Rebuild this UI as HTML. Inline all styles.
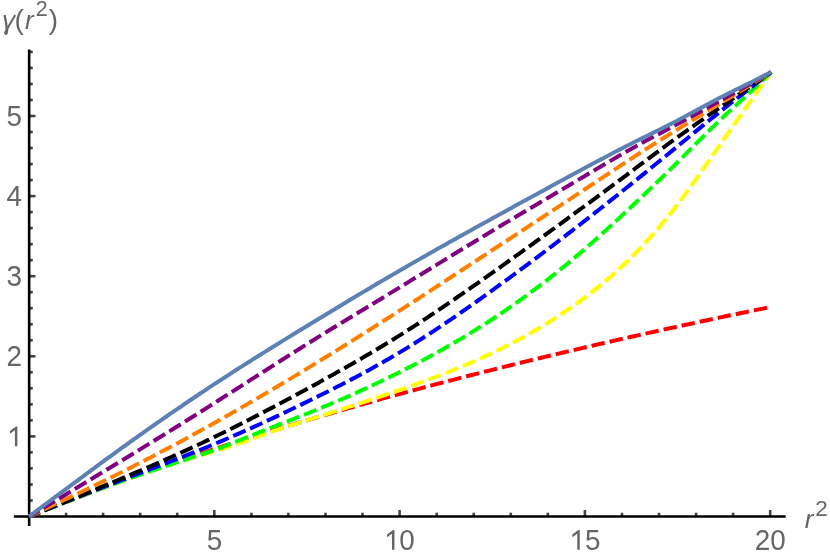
<!DOCTYPE html>
<html><head><meta charset="utf-8"><style>
html,body{margin:0;padding:0;background:#fff}
svg{display:block}
svg{will-change:transform}
text{font-family:"Liberation Sans",sans-serif;font-size:29px;fill:#666}
</style></head><body>
<svg width="830" height="558" viewBox="0 0 830 558">
<rect width="830" height="558" fill="#fff"/>
<g stroke="#444" stroke-width="2.6" fill="none">
<line x1="66.1" y1="516.5" x2="66.1" y2="512.7"/>
<line x1="103.1" y1="516.5" x2="103.1" y2="512.7"/>
<line x1="140.2" y1="516.5" x2="140.2" y2="512.7"/>
<line x1="177.2" y1="516.5" x2="177.2" y2="512.7"/>
<line x1="214.3" y1="516.5" x2="214.3" y2="510.0"/>
<line x1="251.4" y1="516.5" x2="251.4" y2="512.7"/>
<line x1="288.4" y1="516.5" x2="288.4" y2="512.7"/>
<line x1="325.5" y1="516.5" x2="325.5" y2="512.7"/>
<line x1="362.5" y1="516.5" x2="362.5" y2="512.7"/>
<line x1="399.6" y1="516.5" x2="399.6" y2="510.0"/>
<line x1="436.7" y1="516.5" x2="436.7" y2="512.7"/>
<line x1="473.7" y1="516.5" x2="473.7" y2="512.7"/>
<line x1="510.8" y1="516.5" x2="510.8" y2="512.7"/>
<line x1="547.8" y1="516.5" x2="547.8" y2="512.7"/>
<line x1="584.9" y1="516.5" x2="584.9" y2="510.0"/>
<line x1="622.0" y1="516.5" x2="622.0" y2="512.7"/>
<line x1="659.0" y1="516.5" x2="659.0" y2="512.7"/>
<line x1="696.1" y1="516.5" x2="696.1" y2="512.7"/>
<line x1="733.1" y1="516.5" x2="733.1" y2="512.7"/>
<line x1="770.2" y1="516.5" x2="770.2" y2="510.0"/>
<line x1="29.0" y1="500.5" x2="32.8" y2="500.5"/>
<line x1="29.0" y1="484.5" x2="32.8" y2="484.5"/>
<line x1="29.0" y1="468.4" x2="32.8" y2="468.4"/>
<line x1="29.0" y1="452.4" x2="32.8" y2="452.4"/>
<line x1="29.0" y1="436.4" x2="35.5" y2="436.4"/>
<line x1="29.0" y1="420.4" x2="32.8" y2="420.4"/>
<line x1="29.0" y1="404.4" x2="32.8" y2="404.4"/>
<line x1="29.0" y1="388.3" x2="32.8" y2="388.3"/>
<line x1="29.0" y1="372.3" x2="32.8" y2="372.3"/>
<line x1="29.0" y1="356.3" x2="35.5" y2="356.3"/>
<line x1="29.0" y1="340.3" x2="32.8" y2="340.3"/>
<line x1="29.0" y1="324.3" x2="32.8" y2="324.3"/>
<line x1="29.0" y1="308.2" x2="32.8" y2="308.2"/>
<line x1="29.0" y1="292.2" x2="32.8" y2="292.2"/>
<line x1="29.0" y1="276.2" x2="35.5" y2="276.2"/>
<line x1="29.0" y1="260.2" x2="32.8" y2="260.2"/>
<line x1="29.0" y1="244.2" x2="32.8" y2="244.2"/>
<line x1="29.0" y1="228.1" x2="32.8" y2="228.1"/>
<line x1="29.0" y1="212.1" x2="32.8" y2="212.1"/>
<line x1="29.0" y1="196.1" x2="35.5" y2="196.1"/>
<line x1="29.0" y1="180.1" x2="32.8" y2="180.1"/>
<line x1="29.0" y1="164.1" x2="32.8" y2="164.1"/>
<line x1="29.0" y1="148.0" x2="32.8" y2="148.0"/>
<line x1="29.0" y1="132.0" x2="32.8" y2="132.0"/>
<line x1="29.0" y1="116.0" x2="35.5" y2="116.0"/>
<line x1="29.0" y1="100.0" x2="32.8" y2="100.0"/>
<line x1="29.0" y1="84.0" x2="32.8" y2="84.0"/>
<line x1="29.0" y1="67.9" x2="32.8" y2="67.9"/>
<line x1="29.0" y1="51.9" x2="32.8" y2="51.9"/>
</g>
<g stroke="#000" stroke-width="2.5" fill="none">
<line x1="13.9" y1="516.5" x2="785.7" y2="516.5"/>
</g>
<g stroke="#000" stroke-width="2.6" fill="none">
<line x1="29.15" y1="49.4" x2="29.15" y2="526"/>
</g>
<g stroke-linecap="butt" stroke-linejoin="round">
<path d="M29.10 516.50 L32.81 515.04 L36.52 513.58 L40.23 512.13 L43.94 510.67 L47.65 509.21 L51.36 507.76 L55.07 506.31 L58.78 504.86 L62.50 503.41 L66.21 501.97 L69.92 500.53 L73.63 499.09 L77.34 497.66 L81.05 496.23 L84.76 494.80 L88.47 493.38 L92.18 491.97 L95.89 490.56 L99.60 489.15 L103.31 487.75 L107.02 486.36 L110.73 484.98 L114.44 483.60 L118.15 482.23 L121.86 480.87 L125.57 479.51 L129.29 478.16 L133.00 476.82 L136.71 475.49 L140.42 474.17 L144.13 472.85 L147.84 471.54 L151.55 470.24 L155.26 468.94 L158.97 467.65 L162.68 466.37 L166.39 465.09 L170.10 463.82 L173.81 462.55 L177.52 461.29 L181.23 460.04 L184.94 458.79 L188.65 457.55 L192.36 456.31 L196.08 455.08 L199.79 453.86 L203.50 452.63 L207.21 451.42 L210.92 450.20 L214.63 449.00 L218.34 447.79 L222.05 446.59 L225.76 445.40 L229.47 444.21 L233.18 443.02 L236.89 441.84 L240.60 440.66 L244.31 439.48 L248.02 438.31 L251.73 437.15 L255.44 435.99 L259.15 434.83 L262.87 433.68 L266.58 432.53 L270.29 431.38 L274.00 430.24 L277.71 429.11 L281.42 427.98 L285.13 426.85 L288.84 425.72 L292.55 424.61 L296.26 423.49 L299.97 422.38 L303.68 421.27 L307.39 420.17 L311.10 419.07 L314.81 417.98 L318.52 416.88 L322.23 415.80 L325.94 414.72 L329.66 413.64 L333.37 412.56 L337.08 411.49 L340.79 410.42 L344.50 409.36 L348.21 408.30 L351.92 407.25 L355.63 406.20 L359.34 405.15 L363.05 404.10 L366.76 403.06 L370.47 402.03 L374.18 400.99 L377.89 399.96 L381.60 398.94 L385.31 397.91 L389.02 396.89 L392.73 395.88 L396.45 394.86 L400.16 393.85 L403.87 392.85 L407.58 391.85 L411.29 390.85 L415.00 389.85 L418.71 388.86 L422.42 387.87 L426.13 386.88 L429.84 385.90 L433.55 384.92 L437.26 383.94 L440.97 382.97 L444.68 381.99 L448.39 381.03 L452.10 380.06 L455.81 379.10 L459.52 378.14 L463.24 377.19 L466.95 376.23 L470.66 375.28 L474.37 374.34 L478.08 373.39 L481.79 372.45 L485.50 371.52 L489.21 370.58 L492.92 369.65 L496.63 368.72 L500.34 367.79 L504.05 366.87 L507.76 365.95 L511.47 365.03 L515.18 364.12 L518.89 363.21 L522.60 362.30 L526.31 361.39 L530.03 360.49 L533.74 359.58 L537.45 358.69 L541.16 357.79 L544.87 356.90 L548.58 356.01 L552.29 355.12 L556.00 354.23 L559.71 353.35 L563.42 352.47 L567.13 351.59 L570.84 350.72 L574.55 349.84 L578.26 348.97 L581.97 348.11 L585.68 347.24 L589.39 346.38 L593.10 345.52 L596.82 344.66 L600.53 343.81 L604.24 342.95 L607.95 342.10 L611.66 341.25 L615.37 340.41 L619.08 339.56 L622.79 338.72 L626.50 337.88 L630.21 337.05 L633.92 336.21 L637.63 335.38 L641.34 334.55 L645.05 333.73 L648.76 332.90 L652.47 332.08 L656.18 331.26 L659.89 330.44 L663.61 329.62 L667.32 328.81 L671.03 328.00 L674.74 327.19 L678.45 326.38 L682.16 325.58 L685.87 324.77 L689.58 323.97 L693.29 323.17 L697.00 322.38 L700.71 321.58 L704.42 320.79 L708.13 320.00 L711.84 319.21 L715.55 318.42 L719.26 317.64 L722.97 316.86 L726.68 316.08 L730.40 315.30 L734.11 314.52 L737.82 313.75 L741.53 312.97 L745.24 312.21 L748.95 311.44 L752.66 310.67 L756.37 309.91 L760.08 309.15 L763.79 308.39 L767.50 307.63 L771.21 306.87" fill="none" stroke="#ff0000" stroke-width="4" stroke-dasharray="13.5 4.95" stroke-dashoffset="2"/>
<path d="M29.10 516.50 L32.81 515.05 L36.52 513.61 L40.23 512.16 L43.94 510.71 L47.65 509.27 L51.36 507.83 L55.07 506.39 L58.78 504.95 L62.50 503.51 L66.21 502.08 L69.92 500.65 L73.63 499.22 L77.34 497.80 L81.05 496.38 L84.76 494.96 L88.47 493.55 L92.18 492.14 L95.89 490.74 L99.60 489.35 L103.31 487.96 L107.02 486.57 L110.73 485.20 L114.44 483.83 L118.15 482.46 L121.86 481.11 L125.57 479.76 L129.29 478.42 L133.00 477.09 L136.71 475.76 L140.42 474.45 L144.13 473.15 L147.84 471.87 L151.55 470.59 L155.26 469.33 L158.97 468.08 L162.68 466.85 L166.39 465.63 L170.10 464.43 L173.81 463.25 L177.52 462.08 L181.23 460.93 L184.94 459.80 L188.65 458.69 L192.36 457.60 L196.08 456.52 L199.79 455.44 L203.50 454.37 L207.21 453.30 L210.92 452.23 L214.63 451.14 L218.34 450.05 L222.05 448.93 L225.76 447.80 L229.47 446.64 L233.18 445.45 L236.89 444.22 L240.60 442.95 L244.31 441.62 L248.02 440.25 L251.73 438.86 L255.44 437.46 L259.15 436.08 L262.87 434.73 L266.58 433.41 L270.29 432.12 L274.00 430.86 L277.71 429.62 L281.42 428.40 L285.13 427.19 L288.84 426.00 L292.55 424.82 L296.26 423.65 L299.97 422.49 L303.68 421.33 L307.39 420.16 L311.10 419.00 L314.81 417.83 L318.52 416.65 L322.23 415.48 L325.94 414.30 L329.66 413.12 L333.37 411.93 L337.08 410.74 L340.79 409.55 L344.50 408.35 L348.21 407.15 L351.92 405.94 L355.63 404.74 L359.34 403.52 L363.05 402.31 L366.76 401.08 L370.47 399.86 L374.18 398.62 L377.89 397.39 L381.60 396.14 L385.31 394.89 L389.02 393.63 L392.73 392.36 L396.45 391.08 L400.16 389.80 L403.87 388.51 L407.58 387.20 L411.29 385.89 L415.00 384.57 L418.71 383.23 L422.42 381.88 L426.13 380.52 L429.84 379.14 L433.55 377.75 L437.26 376.34 L440.97 374.91 L444.68 373.46 L448.39 372.00 L452.10 370.52 L455.81 369.02 L459.52 367.49 L463.24 365.94 L466.95 364.37 L470.66 362.78 L474.37 361.16 L478.08 359.52 L481.79 357.85 L485.50 356.16 L489.21 354.43 L492.92 352.68 L496.63 350.90 L500.34 349.09 L504.05 347.24 L507.76 345.37 L511.47 343.46 L515.18 341.52 L518.89 339.54 L522.60 337.52 L526.31 335.47 L530.03 333.38 L533.74 331.25 L537.45 329.08 L541.16 326.87 L544.87 324.62 L548.58 322.33 L552.29 319.99 L556.00 317.60 L559.71 315.17 L563.42 312.69 L567.13 310.17 L570.84 307.59 L574.55 304.97 L578.26 302.30 L581.97 299.57 L585.68 296.79 L589.39 293.96 L593.10 291.07 L596.82 288.12 L600.53 285.10 L604.24 282.02 L607.95 278.88 L611.66 275.66 L615.37 272.37 L619.08 269.00 L622.79 265.55 L626.50 262.03 L630.21 258.41 L633.92 254.71 L637.63 250.92 L641.34 247.04 L645.05 243.06 L648.76 239.00 L652.47 234.84 L656.18 230.60 L659.89 226.25 L663.61 221.81 L667.32 217.28 L671.03 212.65 L674.74 207.92 L678.45 203.09 L682.16 198.17 L685.87 193.16 L689.58 188.07 L693.29 182.91 L697.00 177.70 L700.71 172.44 L704.42 167.14 L708.13 161.81 L711.84 156.46 L715.55 151.10 L719.26 145.74 L722.97 140.40 L726.68 135.06 L730.40 129.75 L734.11 124.46 L737.82 119.18 L741.53 113.92 L745.24 108.67 L748.95 103.42 L752.66 98.19 L756.37 92.96 L760.08 87.74 L763.79 82.51 L767.50 77.30 L771.21 72.08" fill="none" stroke="#ffff00" stroke-width="4" stroke-dasharray="13.5 4.95" stroke-dashoffset="2"/>
<path d="M29.10 516.50 L32.81 515.04 L36.52 513.58 L40.23 512.12 L43.94 510.66 L47.65 509.21 L51.36 507.75 L55.07 506.30 L58.78 504.85 L62.50 503.41 L66.21 501.97 L69.92 500.53 L73.63 499.10 L77.34 497.67 L81.05 496.25 L84.76 494.83 L88.47 493.43 L92.18 492.02 L95.89 490.63 L99.60 489.24 L103.31 487.86 L107.02 486.49 L110.73 485.13 L114.44 483.78 L118.15 482.44 L121.86 481.11 L125.57 479.79 L129.29 478.48 L133.00 477.18 L136.71 475.89 L140.42 474.60 L144.13 473.33 L147.84 472.07 L151.55 470.81 L155.26 469.56 L158.97 468.32 L162.68 467.08 L166.39 465.86 L170.10 464.63 L173.81 463.42 L177.52 462.21 L181.23 461.00 L184.94 459.80 L188.65 458.60 L192.36 457.40 L196.08 456.20 L199.79 454.99 L203.50 453.76 L207.21 452.51 L210.92 451.24 L214.63 449.95 L218.34 448.62 L222.05 447.26 L225.76 445.85 L229.47 444.40 L233.18 442.92 L236.89 441.42 L240.60 439.90 L244.31 438.38 L248.02 436.87 L251.73 435.36 L255.44 433.87 L259.15 432.38 L262.87 430.90 L266.58 429.44 L270.29 427.99 L274.00 426.54 L277.71 425.10 L281.42 423.66 L285.13 422.22 L288.84 420.78 L292.55 419.34 L296.26 417.89 L299.97 416.43 L303.68 414.97 L307.39 413.49 L311.10 412.00 L314.81 410.50 L318.52 408.98 L322.23 407.45 L325.94 405.91 L329.66 404.35 L333.37 402.78 L337.08 401.20 L340.79 399.60 L344.50 397.98 L348.21 396.35 L351.92 394.71 L355.63 393.05 L359.34 391.37 L363.05 389.68 L366.76 387.98 L370.47 386.26 L374.18 384.52 L377.89 382.77 L381.60 381.00 L385.31 379.21 L389.02 377.41 L392.73 375.59 L396.45 373.76 L400.16 371.91 L403.87 370.04 L407.58 368.15 L411.29 366.24 L415.00 364.32 L418.71 362.38 L422.42 360.42 L426.13 358.43 L429.84 356.43 L433.55 354.41 L437.26 352.36 L440.97 350.30 L444.68 348.21 L448.39 346.09 L452.10 343.96 L455.81 341.80 L459.52 339.61 L463.24 337.41 L466.95 335.17 L470.66 332.91 L474.37 330.63 L478.08 328.31 L481.79 325.97 L485.50 323.60 L489.21 321.21 L492.92 318.78 L496.63 316.33 L500.34 313.85 L504.05 311.33 L507.76 308.79 L511.47 306.22 L515.18 303.62 L518.89 300.98 L522.60 298.32 L526.31 295.63 L530.03 292.90 L533.74 290.15 L537.45 287.36 L541.16 284.54 L544.87 281.70 L548.58 278.82 L552.29 275.90 L556.00 272.96 L559.71 269.99 L563.42 266.98 L567.13 263.94 L570.84 260.86 L574.55 257.76 L578.26 254.62 L581.97 251.45 L585.68 248.24 L589.39 245.01 L593.10 241.74 L596.82 238.44 L600.53 235.11 L604.24 231.76 L607.95 228.39 L611.66 224.99 L615.37 221.57 L619.08 218.14 L622.79 214.69 L626.50 211.22 L630.21 207.75 L633.92 204.26 L637.63 200.76 L641.34 197.24 L645.05 193.72 L648.76 190.18 L652.47 186.63 L656.18 183.06 L659.89 179.48 L663.61 175.88 L667.32 172.26 L671.03 168.62 L674.74 164.96 L678.45 161.28 L682.16 157.58 L685.87 153.87 L689.58 150.15 L693.29 146.43 L697.00 142.71 L700.71 139.00 L704.42 135.31 L708.13 131.64 L711.84 127.99 L715.55 124.38 L719.26 120.81 L722.97 117.29 L726.68 113.81 L730.40 110.38 L734.11 106.97 L737.82 103.58 L741.53 100.18 L745.24 96.77 L748.95 93.32 L752.66 89.83 L756.37 86.32 L760.08 82.78 L763.79 79.22 L767.50 75.66 L771.21 72.08" fill="none" stroke="#00ff00" stroke-width="4" stroke-dasharray="13.5 4.95" stroke-dashoffset="2"/>
<path d="M29.10 516.50 L32.81 515.02 L36.52 513.53 L40.23 512.05 L43.94 510.57 L47.65 509.09 L51.36 507.61 L55.07 506.13 L58.78 504.65 L62.50 503.18 L66.21 501.70 L69.92 500.23 L73.63 498.76 L77.34 497.29 L81.05 495.83 L84.76 494.36 L88.47 492.91 L92.18 491.45 L95.89 490.00 L99.60 488.55 L103.31 487.11 L107.02 485.66 L110.73 484.23 L114.44 482.80 L118.15 481.37 L121.86 479.95 L125.57 478.53 L129.29 477.12 L133.00 475.71 L136.71 474.30 L140.42 472.89 L144.13 471.49 L147.84 470.09 L151.55 468.68 L155.26 467.28 L158.97 465.87 L162.68 464.46 L166.39 463.04 L170.10 461.62 L173.81 460.20 L177.52 458.77 L181.23 457.33 L184.94 455.88 L188.65 454.43 L192.36 452.97 L196.08 451.49 L199.79 450.01 L203.50 448.51 L207.21 447.00 L210.92 445.48 L214.63 443.95 L218.34 442.39 L222.05 440.83 L225.76 439.25 L229.47 437.66 L233.18 436.05 L236.89 434.43 L240.60 432.80 L244.31 431.15 L248.02 429.49 L251.73 427.82 L255.44 426.14 L259.15 424.45 L262.87 422.75 L266.58 421.03 L270.29 419.31 L274.00 417.58 L277.71 415.83 L281.42 414.08 L285.13 412.32 L288.84 410.55 L292.55 408.77 L296.26 406.98 L299.97 405.19 L303.68 403.39 L307.39 401.58 L311.10 399.77 L314.81 397.95 L318.52 396.11 L322.23 394.27 L325.94 392.43 L329.66 390.56 L333.37 388.69 L337.08 386.81 L340.79 384.91 L344.50 383.00 L348.21 381.07 L351.92 379.13 L355.63 377.18 L359.34 375.20 L363.05 373.21 L366.76 371.20 L370.47 369.16 L374.18 367.11 L377.89 365.04 L381.60 362.95 L385.31 360.83 L389.02 358.69 L392.73 356.52 L396.45 354.33 L400.16 352.12 L403.87 349.87 L407.58 347.61 L411.29 345.31 L415.00 342.99 L418.71 340.65 L422.42 338.29 L426.13 335.90 L429.84 333.49 L433.55 331.06 L437.26 328.61 L440.97 326.14 L444.68 323.65 L448.39 321.14 L452.10 318.61 L455.81 316.07 L459.52 313.51 L463.24 310.94 L466.95 308.35 L470.66 305.74 L474.37 303.13 L478.08 300.50 L481.79 297.85 L485.50 295.20 L489.21 292.53 L492.92 289.86 L496.63 287.17 L500.34 284.48 L504.05 281.77 L507.76 279.06 L511.47 276.34 L515.18 273.61 L518.89 270.86 L522.60 268.11 L526.31 265.36 L530.03 262.59 L533.74 259.81 L537.45 257.03 L541.16 254.23 L544.87 251.43 L548.58 248.62 L552.29 245.80 L556.00 242.98 L559.71 240.14 L563.42 237.30 L567.13 234.45 L570.84 231.59 L574.55 228.72 L578.26 225.85 L581.97 222.97 L585.68 220.08 L589.39 217.18 L593.10 214.28 L596.82 211.37 L600.53 208.45 L604.24 205.53 L607.95 202.59 L611.66 199.65 L615.37 196.70 L619.08 193.75 L622.79 190.78 L626.50 187.81 L630.21 184.83 L633.92 181.85 L637.63 178.85 L641.34 175.85 L645.05 172.84 L648.76 169.83 L652.47 166.81 L656.18 163.79 L659.89 160.76 L663.61 157.73 L667.32 154.69 L671.03 151.65 L674.74 148.61 L678.45 145.57 L682.16 142.52 L685.87 139.48 L689.58 136.43 L693.29 133.39 L697.00 130.36 L700.71 127.33 L704.42 124.31 L708.13 121.30 L711.84 118.30 L715.55 115.32 L719.26 112.34 L722.97 109.39 L726.68 106.45 L730.40 103.53 L734.11 100.62 L737.82 97.73 L741.53 94.84 L745.24 91.97 L748.95 89.11 L752.66 86.26 L756.37 83.42 L760.08 80.58 L763.79 77.74 L767.50 74.91 L771.21 72.08" fill="none" stroke="#0000ff" stroke-width="4" stroke-dasharray="13.5 4.95" stroke-dashoffset="2"/>
<path d="M29.10 516.50 L32.81 515.00 L36.52 513.49 L40.23 511.99 L43.94 510.49 L47.65 508.98 L51.36 507.48 L55.07 505.97 L58.78 504.46 L62.50 502.95 L66.21 501.44 L69.92 499.93 L73.63 498.41 L77.34 496.89 L81.05 495.37 L84.76 493.85 L88.47 492.32 L92.18 490.79 L95.89 489.26 L99.60 487.72 L103.31 486.18 L107.02 484.64 L110.73 483.09 L114.44 481.54 L118.15 479.98 L121.86 478.42 L125.57 476.85 L129.29 475.28 L133.00 473.70 L136.71 472.11 L140.42 470.52 L144.13 468.93 L147.84 467.32 L151.55 465.71 L155.26 464.09 L158.97 462.47 L162.68 460.83 L166.39 459.19 L170.10 457.53 L173.81 455.87 L177.52 454.20 L181.23 452.52 L184.94 450.82 L188.65 449.12 L192.36 447.40 L196.08 445.68 L199.79 443.94 L203.50 442.19 L207.21 440.43 L210.92 438.66 L214.63 436.87 L218.34 435.07 L222.05 433.25 L225.76 431.43 L229.47 429.59 L233.18 427.74 L236.89 425.87 L240.60 424.00 L244.31 422.11 L248.02 420.22 L251.73 418.31 L255.44 416.40 L259.15 414.47 L262.87 412.54 L266.58 410.59 L270.29 408.64 L274.00 406.68 L277.71 404.71 L281.42 402.74 L285.13 400.75 L288.84 398.76 L292.55 396.77 L296.26 394.76 L299.97 392.76 L303.68 390.74 L307.39 388.72 L311.10 386.70 L314.81 384.67 L318.52 382.63 L322.23 380.59 L325.94 378.54 L329.66 376.48 L333.37 374.42 L337.08 372.34 L340.79 370.26 L344.50 368.16 L348.21 366.06 L351.92 363.94 L355.63 361.81 L359.34 359.67 L363.05 357.51 L366.76 355.34 L370.47 353.16 L374.18 350.96 L377.89 348.74 L381.60 346.51 L385.31 344.27 L389.02 342.00 L392.73 339.72 L396.45 337.42 L400.16 335.09 L403.87 332.75 L407.58 330.39 L411.29 328.02 L415.00 325.62 L418.71 323.21 L422.42 320.78 L426.13 318.33 L429.84 315.87 L433.55 313.40 L437.26 310.91 L440.97 308.41 L444.68 305.89 L448.39 303.36 L452.10 300.82 L455.81 298.27 L459.52 295.71 L463.24 293.14 L466.95 290.56 L470.66 287.97 L474.37 285.38 L478.08 282.77 L481.79 280.16 L485.50 277.55 L489.21 274.93 L492.92 272.30 L496.63 269.67 L500.34 267.03 L504.05 264.39 L507.76 261.75 L511.47 259.10 L515.18 256.45 L518.89 253.79 L522.60 251.13 L526.31 248.47 L530.03 245.80 L533.74 243.12 L537.45 240.44 L541.16 237.76 L544.87 235.08 L548.58 232.39 L552.29 229.69 L556.00 227.00 L559.71 224.29 L563.42 221.59 L567.13 218.88 L570.84 216.17 L574.55 213.45 L578.26 210.73 L581.97 208.00 L585.68 205.27 L589.39 202.54 L593.10 199.81 L596.82 197.07 L600.53 194.32 L604.24 191.58 L607.95 188.83 L611.66 186.07 L615.37 183.32 L619.08 180.56 L622.79 177.80 L626.50 175.03 L630.21 172.26 L633.92 169.49 L637.63 166.72 L641.34 163.95 L645.05 161.18 L648.76 158.41 L652.47 155.65 L656.18 152.90 L659.89 150.15 L663.61 147.42 L667.32 144.69 L671.03 141.98 L674.74 139.28 L678.45 136.60 L682.16 133.93 L685.87 131.29 L689.58 128.65 L693.29 126.03 L697.00 123.42 L700.71 120.82 L704.42 118.23 L708.13 115.65 L711.84 113.08 L715.55 110.50 L719.26 107.94 L722.97 105.37 L726.68 102.81 L730.40 100.25 L734.11 97.68 L737.82 95.12 L741.53 92.56 L745.24 90.00 L748.95 87.44 L752.66 84.88 L756.37 82.32 L760.08 79.76 L763.79 77.20 L767.50 74.64 L771.21 72.08" fill="none" stroke="#000" stroke-width="4" stroke-dasharray="13.5 4.95" stroke-dashoffset="2"/>
<path d="M29.10 516.50 L32.81 514.76 L36.52 513.02 L40.23 511.28 L43.94 509.54 L47.65 507.80 L51.36 506.06 L55.07 504.31 L58.78 502.56 L62.50 500.81 L66.21 499.06 L69.92 497.30 L73.63 495.54 L77.34 493.77 L81.05 492.00 L84.76 490.22 L88.47 488.44 L92.18 486.65 L95.89 484.85 L99.60 483.05 L103.31 481.24 L107.02 479.42 L110.73 477.60 L114.44 475.76 L118.15 473.92 L121.86 472.07 L125.57 470.21 L129.29 468.34 L133.00 466.46 L136.71 464.57 L140.42 462.67 L144.13 460.76 L147.84 458.85 L151.55 456.92 L155.26 454.99 L158.97 453.04 L162.68 451.09 L166.39 449.13 L170.10 447.16 L173.81 445.18 L177.52 443.19 L181.23 441.19 L184.94 439.18 L188.65 437.17 L192.36 435.14 L196.08 433.11 L199.79 431.06 L203.50 429.01 L207.21 426.95 L210.92 424.88 L214.63 422.81 L218.34 420.72 L222.05 418.63 L225.76 416.52 L229.47 414.41 L233.18 412.29 L236.89 410.17 L240.60 408.03 L244.31 405.89 L248.02 403.74 L251.73 401.58 L255.44 399.42 L259.15 397.24 L262.87 395.06 L266.58 392.88 L270.29 390.69 L274.00 388.48 L277.71 386.28 L281.42 384.07 L285.13 381.85 L288.84 379.62 L292.55 377.39 L296.26 375.15 L299.97 372.91 L303.68 370.66 L307.39 368.40 L311.10 366.14 L314.81 363.87 L318.52 361.60 L322.23 359.33 L325.94 357.04 L329.66 354.75 L333.37 352.46 L337.08 350.16 L340.79 347.86 L344.50 345.55 L348.21 343.24 L351.92 340.92 L355.63 338.59 L359.34 336.26 L363.05 333.93 L366.76 331.59 L370.47 329.24 L374.18 326.89 L377.89 324.53 L381.60 322.17 L385.31 319.81 L389.02 317.44 L392.73 315.06 L396.45 312.68 L400.16 310.30 L403.87 307.91 L407.58 305.51 L411.29 303.11 L415.00 300.71 L418.71 298.31 L422.42 295.89 L426.13 293.48 L429.84 291.06 L433.55 288.64 L437.26 286.22 L440.97 283.80 L444.68 281.37 L448.39 278.94 L452.10 276.51 L455.81 274.08 L459.52 271.64 L463.24 269.21 L466.95 266.77 L470.66 264.33 L474.37 261.90 L478.08 259.46 L481.79 257.02 L485.50 254.59 L489.21 252.15 L492.92 249.71 L496.63 247.28 L500.34 244.85 L504.05 242.41 L507.76 239.98 L511.47 237.55 L515.18 235.11 L518.89 232.68 L522.60 230.25 L526.31 227.82 L530.03 225.38 L533.74 222.95 L537.45 220.52 L541.16 218.08 L544.87 215.64 L548.58 213.21 L552.29 210.77 L556.00 208.33 L559.71 205.89 L563.42 203.44 L567.13 201.00 L570.84 198.55 L574.55 196.10 L578.26 193.64 L581.97 191.19 L585.68 188.73 L589.39 186.27 L593.10 183.81 L596.82 181.34 L600.53 178.88 L604.24 176.42 L607.95 173.96 L611.66 171.51 L615.37 169.06 L619.08 166.62 L622.79 164.18 L626.50 161.76 L630.21 159.34 L633.92 156.93 L637.63 154.53 L641.34 152.15 L645.05 149.77 L648.76 147.40 L652.47 145.05 L656.18 142.70 L659.89 140.37 L663.61 138.04 L667.32 135.73 L671.03 133.42 L674.74 131.13 L678.45 128.84 L682.16 126.56 L685.87 124.29 L689.58 122.03 L693.29 119.78 L697.00 117.52 L700.71 115.27 L704.42 113.03 L708.13 110.78 L711.84 108.53 L715.55 106.28 L719.26 104.03 L722.97 101.78 L726.68 99.51 L730.40 97.25 L734.11 94.98 L737.82 92.70 L741.53 90.42 L745.24 88.13 L748.95 85.85 L752.66 83.56 L756.37 81.26 L760.08 78.97 L763.79 76.67 L767.50 74.38 L771.21 72.08" fill="none" stroke="#ff8000" stroke-width="4" stroke-dasharray="13.5 4.95" stroke-dashoffset="2"/>
<path d="M29.10 516.50 L32.81 514.27 L36.52 512.04 L40.23 509.81 L43.94 507.58 L47.65 505.35 L51.36 503.12 L55.07 500.89 L58.78 498.66 L62.50 496.43 L66.21 494.20 L69.92 491.96 L73.63 489.72 L77.34 487.49 L81.05 485.25 L84.76 483.01 L88.47 480.77 L92.18 478.52 L95.89 476.28 L99.60 474.03 L103.31 471.78 L107.02 469.53 L110.73 467.28 L114.44 465.02 L118.15 462.76 L121.86 460.50 L125.57 458.24 L129.29 455.97 L133.00 453.70 L136.71 451.43 L140.42 449.15 L144.13 446.88 L147.84 444.59 L151.55 442.31 L155.26 440.02 L158.97 437.73 L162.68 435.44 L166.39 433.14 L170.10 430.83 L173.81 428.53 L177.52 426.22 L181.23 423.90 L184.94 421.59 L188.65 419.27 L192.36 416.94 L196.08 414.61 L199.79 412.27 L203.50 409.94 L207.21 407.59 L210.92 405.24 L214.63 402.89 L218.34 400.54 L222.05 398.17 L225.76 395.81 L229.47 393.44 L233.18 391.07 L236.89 388.70 L240.60 386.32 L244.31 383.95 L248.02 381.57 L251.73 379.19 L255.44 376.82 L259.15 374.44 L262.87 372.07 L266.58 369.70 L270.29 367.32 L274.00 364.96 L277.71 362.59 L281.42 360.23 L285.13 357.87 L288.84 355.52 L292.55 353.17 L296.26 350.83 L299.97 348.50 L303.68 346.17 L307.39 343.85 L311.10 341.53 L314.81 339.23 L318.52 336.92 L322.23 334.63 L325.94 332.34 L329.66 330.06 L333.37 327.78 L337.08 325.51 L340.79 323.24 L344.50 320.97 L348.21 318.71 L351.92 316.45 L355.63 314.19 L359.34 311.93 L363.05 309.68 L366.76 307.43 L370.47 305.18 L374.18 302.92 L377.89 300.67 L381.60 298.42 L385.31 296.17 L389.02 293.91 L392.73 291.65 L396.45 289.39 L400.16 287.13 L403.87 284.87 L407.58 282.60 L411.29 280.33 L415.00 278.06 L418.71 275.79 L422.42 273.51 L426.13 271.24 L429.84 268.96 L433.55 266.68 L437.26 264.41 L440.97 262.13 L444.68 259.86 L448.39 257.58 L452.10 255.31 L455.81 253.04 L459.52 250.77 L463.24 248.50 L466.95 246.24 L470.66 243.98 L474.37 241.72 L478.08 239.47 L481.79 237.22 L485.50 234.97 L489.21 232.73 L492.92 230.50 L496.63 228.27 L500.34 226.04 L504.05 223.82 L507.76 221.61 L511.47 219.39 L515.18 217.19 L518.89 214.98 L522.60 212.78 L526.31 210.58 L530.03 208.38 L533.74 206.19 L537.45 203.99 L541.16 201.80 L544.87 199.61 L548.58 197.42 L552.29 195.23 L556.00 193.04 L559.71 190.85 L563.42 188.65 L567.13 186.46 L570.84 184.27 L574.55 182.07 L578.26 179.87 L581.97 177.67 L585.68 175.47 L589.39 173.27 L593.10 171.06 L596.82 168.86 L600.53 166.66 L604.24 164.46 L607.95 162.28 L611.66 160.10 L615.37 157.94 L619.08 155.80 L622.79 153.67 L626.50 151.55 L630.21 149.46 L633.92 147.40 L637.63 145.35 L641.34 143.33 L645.05 141.32 L648.76 139.32 L652.47 137.34 L656.18 135.37 L659.89 133.40 L663.61 131.43 L667.32 129.47 L671.03 127.50 L674.74 125.52 L678.45 123.54 L682.16 121.55 L685.87 119.55 L689.58 117.55 L693.29 115.53 L697.00 113.51 L700.71 111.48 L704.42 109.44 L708.13 107.40 L711.84 105.35 L715.55 103.29 L719.26 101.23 L722.97 99.17 L726.68 97.10 L730.40 95.03 L734.11 92.95 L737.82 90.87 L741.53 88.79 L745.24 86.71 L748.95 84.62 L752.66 82.54 L756.37 80.45 L760.08 78.36 L763.79 76.27 L767.50 74.17 L771.21 72.08" fill="none" stroke="#800080" stroke-width="4" stroke-dasharray="13.5 4.95" stroke-dashoffset="2"/>
<path d="M29.10 516.50 L32.81 513.73 L36.52 510.95 L40.23 508.18 L43.94 505.41 L47.65 502.63 L51.36 499.87 L55.07 497.10 L58.78 494.33 L62.50 491.57 L66.21 488.81 L69.92 486.05 L73.63 483.30 L77.34 480.55 L81.05 477.80 L84.76 475.06 L88.47 472.33 L92.18 469.60 L95.89 466.87 L99.60 464.15 L103.31 461.44 L107.02 458.73 L110.73 456.03 L114.44 453.34 L118.15 450.65 L121.86 447.97 L125.57 445.30 L129.29 442.64 L133.00 439.99 L136.71 437.34 L140.42 434.70 L144.13 432.07 L147.84 429.45 L151.55 426.84 L155.26 424.24 L158.97 421.65 L162.68 419.07 L166.39 416.49 L170.10 413.93 L173.81 411.37 L177.52 408.83 L181.23 406.29 L184.94 403.77 L188.65 401.25 L192.36 398.75 L196.08 396.26 L199.79 393.78 L203.50 391.30 L207.21 388.84 L210.92 386.39 L214.63 383.95 L218.34 381.53 L222.05 379.11 L225.76 376.71 L229.47 374.31 L233.18 371.92 L236.89 369.55 L240.60 367.18 L244.31 364.82 L248.02 362.47 L251.73 360.13 L255.44 357.80 L259.15 355.47 L262.87 353.15 L266.58 350.84 L270.29 348.53 L274.00 346.23 L277.71 343.93 L281.42 341.64 L285.13 339.36 L288.84 337.08 L292.55 334.80 L296.26 332.53 L299.97 330.26 L303.68 327.99 L307.39 325.72 L311.10 323.46 L314.81 321.20 L318.52 318.94 L322.23 316.69 L325.94 314.44 L329.66 312.19 L333.37 309.94 L337.08 307.70 L340.79 305.46 L344.50 303.23 L348.21 301.00 L351.92 298.77 L355.63 296.55 L359.34 294.33 L363.05 292.12 L366.76 289.92 L370.47 287.71 L374.18 285.52 L377.89 283.33 L381.60 281.14 L385.31 278.96 L389.02 276.79 L392.73 274.62 L396.45 272.46 L400.16 270.30 L403.87 268.16 L407.58 266.01 L411.29 263.88 L415.00 261.75 L418.71 259.63 L422.42 257.51 L426.13 255.40 L429.84 253.29 L433.55 251.19 L437.26 249.09 L440.97 247.00 L444.68 244.91 L448.39 242.83 L452.10 240.75 L455.81 238.68 L459.52 236.61 L463.24 234.54 L466.95 232.47 L470.66 230.41 L474.37 228.35 L478.08 226.30 L481.79 224.25 L485.50 222.20 L489.21 220.15 L492.92 218.10 L496.63 216.05 L500.34 214.01 L504.05 211.97 L507.76 209.93 L511.47 207.89 L515.18 205.86 L518.89 203.82 L522.60 201.79 L526.31 199.76 L530.03 197.73 L533.74 195.71 L537.45 193.68 L541.16 191.66 L544.87 189.64 L548.58 187.63 L552.29 185.61 L556.00 183.60 L559.71 181.59 L563.42 179.58 L567.13 177.57 L570.84 175.57 L574.55 173.57 L578.26 171.57 L581.97 169.57 L585.68 167.58 L589.39 165.58 L593.10 163.60 L596.82 161.61 L600.53 159.64 L604.24 157.67 L607.95 155.71 L611.66 153.76 L615.37 151.82 L619.08 149.89 L622.79 147.98 L626.50 146.08 L630.21 144.20 L633.92 142.33 L637.63 140.48 L641.34 138.64 L645.05 136.81 L648.76 134.98 L652.47 133.15 L656.18 131.31 L659.89 129.47 L663.61 127.62 L667.32 125.75 L671.03 123.87 L674.74 121.96 L678.45 120.02 L682.16 118.06 L685.87 116.08 L689.58 114.08 L693.29 112.07 L697.00 110.05 L700.71 108.03 L704.42 106.01 L708.13 104.00 L711.84 102.01 L715.55 100.03 L719.26 98.08 L722.97 96.16 L726.68 94.28 L730.40 92.42 L734.11 90.58 L737.82 88.76 L741.53 86.94 L745.24 85.12 L748.95 83.28 L752.66 81.44 L756.37 79.58 L760.08 77.71 L763.79 75.84 L767.50 73.96 L771.21 72.08" fill="none" stroke="#5e81b5" stroke-width="4"/>
</g>
<text transform="translate(214.40,549.70) scale(0.960,1)" text-anchor="middle">5</text>
<path d="M0,-15.2 L6.0,-19.8 L7.45,-19.8 L7.45,0 L5.0,0 L5.0,-16.0 L0.1,-12.5 Z" transform="translate(387.00,549.70)" fill="#666"/>
<text transform="translate(399.35,549.70) scale(0.960,1)" text-anchor="start">0</text>
<path d="M0,-15.2 L6.0,-19.8 L7.45,-19.8 L7.45,0 L5.0,0 L5.0,-16.0 L0.1,-12.5 Z" transform="translate(572.30,549.70)" fill="#666"/>
<text transform="translate(584.90,549.70) scale(0.960,1)" text-anchor="start">5</text>
<text transform="translate(770.20,549.70) scale(0.960,1)" text-anchor="middle">20</text>
<text transform="translate(22.00,366.30) scale(0.960,1)" text-anchor="end">2</text>
<text transform="translate(22.00,286.20) scale(0.960,1)" text-anchor="end">3</text>
<text transform="translate(22.00,206.10) scale(0.960,1)" text-anchor="end">4</text>
<text transform="translate(22.00,126.00) scale(0.960,1)" text-anchor="end">5</text>
<path d="M0,-15.2 L6.0,-19.8 L7.45,-19.8 L7.45,0 L5.0,0 L5.0,-16.0 L0.1,-12.5 Z" transform="translate(9.90,446.30)" fill="#666"/>
<g class="lab">
<g fill="none" stroke="#666" stroke-linecap="butt">
<path d="M4.55,15.1 C5.5,19.2 6.5,24.5 6.9,29.2" stroke-width="2.3"/>
<path d="M15.2,14.9 L7.0,29.0" stroke-width="2.0"/>
<path d="M7.0,28.2 C7.1,30.2 6.6,31.8 6.0,33.0" stroke-width="2.9" stroke-linecap="round"/>
</g>
<ellipse cx="5.9" cy="32.8" rx="1.85" ry="1.95" fill="#666"/>
<text x="14.4" y="28.7" style="font-size:28px">(</text>
<text x="25.0" y="28.7" font-style="italic" style="font-size:26px">r</text>
<text x="35.8" y="16" style="font-size:21.5px">2</text>
<text x="48.7" y="28.7" style="font-size:28px">)</text>
<text x="804.8" y="527.8" font-style="italic" style="font-size:26px">r</text>
<text x="815.2" y="515.8" style="font-size:22.5px">2</text>
</g>
</svg>
</body></html>
